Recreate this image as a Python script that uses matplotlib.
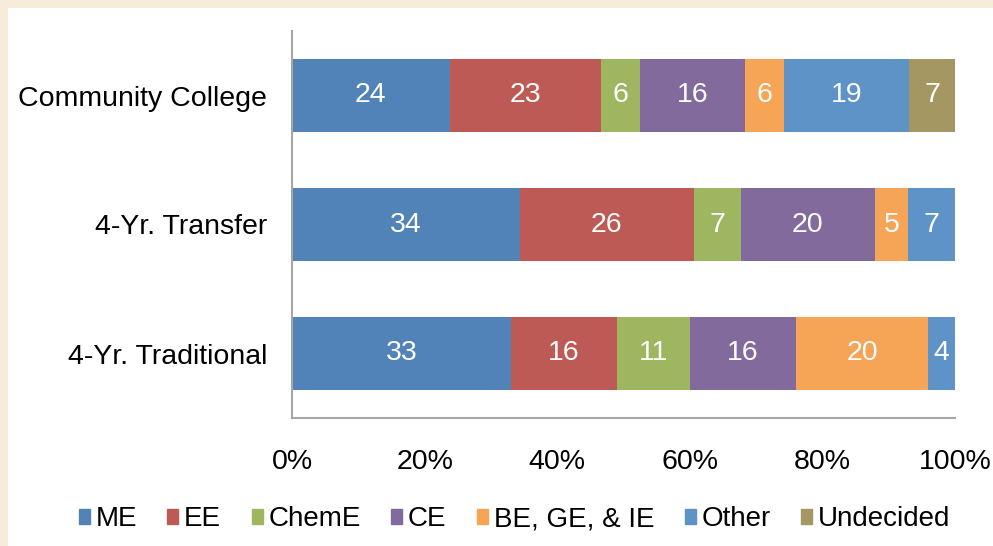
import matplotlib.pyplot as plt
import matplotlib.patches as mpatches
from matplotlib.ticker import FuncFormatter
import numpy as np

plt.rcParams['font.family'] = ['Liberation Sans', 'DejaVu Sans']

groups = ['4-Yr. Traditional', '4-Yr. Transfer', 'Community College']
majors = ['ME', 'EE', 'ChemE', 'CE', 'BE, GE, & IE', 'Other', 'Undecided']
colors = ['#5183B9', '#BE5A55', '#9DB65F', '#836A9C', '#F6A456', '#5E93C8', '#A49762']

# percent of students per major (rows follow groups)
values = np.array([
    [33, 16, 11, 16, 20, 4, 0],
    [34, 26, 7, 20, 5, 7, 0],
    [24, 23, 6, 16, 6, 19, 7],
], dtype=float)

shares = values / values.sum(axis=1, keepdims=True) * 100

fig = plt.figure(figsize=(9.93, 5.46), dpi=100)
fig.patch.set_facecolor('#F6ECD9')
fig.patches.append(mpatches.Rectangle((8 / 993, 0), 1, 1 - 8 / 546,
                                      transform=fig.transFigure,
                                      facecolor='white', edgecolor='none', zorder=-10))

ax = fig.add_axes([292 / 993, 1 - 418 / 546, (955 - 292) / 993, (418 - 31) / 546])
ax.set_facecolor('white')

y = np.arange(len(groups))
left = np.zeros(len(groups))
for j, (name, col) in enumerate(zip(majors, colors)):
    bars = ax.barh(y, shares[:, j], left=left, height=0.57, color=col,
                   edgecolor='none', label=name)
    for i, b in enumerate(bars):
        if values[i, j] > 0:
            ax.text(left[i] + shares[i, j] / 2, y[i], '%d' % values[i, j],
                    ha='center', va='center', color='white', fontsize=20.5)
    left += shares[:, j]

ax.set_xlim(0, 100)
ax.set_ylim(-0.5, 2.5)
ax.set_yticks(y)
ax.set_yticklabels(groups, fontsize=20.5)
ax.set_xticks(np.arange(0, 101, 20))
ax.xaxis.set_major_formatter(FuncFormatter(lambda v, p: '%d%%' % v))
ax.tick_params(axis='x', labelsize=20.5, length=0, pad=22)
ax.tick_params(axis='y', length=0, pad=18)
for s in ['top', 'right']:
    ax.spines[s].set_visible(False)
for s in ['left', 'bottom']:
    ax.spines[s].set_color('#A6A6A6')
    ax.spines[s].set_linewidth(1.5)

handles = [mpatches.Patch(color=c, label=m) for m, c in zip(majors, colors)]
fig.legend(handles=handles, loc='center', bbox_to_anchor=(0.518, 1 - 519 / 546),
           ncol=7, frameon=False, fontsize=20, handlelength=0.4, handleheight=0.45,
           handletextpad=0.2, columnspacing=1.1)

fig.savefig('out.png', dpi=100, facecolor=fig.get_facecolor())
